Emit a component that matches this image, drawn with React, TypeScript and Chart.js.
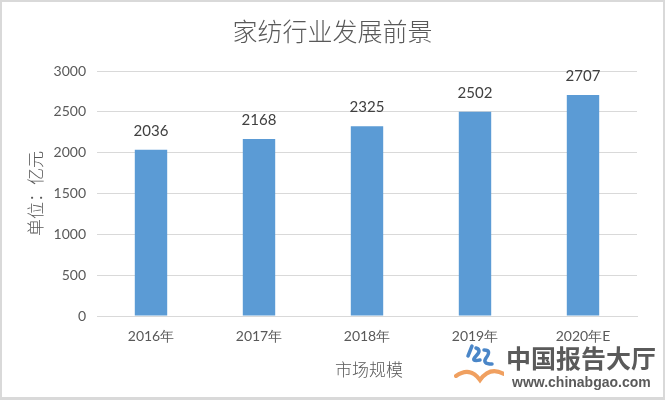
import React, { useEffect, useRef } from "react";
import { Chart, registerables } from "chart.js";

Chart.register(...registerables);

const categories = ["2016年", "2017年", "2018年", "2019年", "2020年E"];
const values = [2036, 2168, 2325, 2502, 2707];
const yTicks = [0, 500, 1000, 1500, 2000, 2500, 3000];
const titleText = "家纺行业发展前景";
const yTitle = "单位：亿元";
const xTitle = "市场规模";

const W = 661;
const H = 395;
const CJK = '"Noto Sans CJK SC", "Noto Sans", sans-serif';
const NUM = 'Lato, "Noto Sans", sans-serif';

export default function App() {
  const ref = useRef<HTMLCanvasElement | null>(null);

  useEffect(() => {
    document.body.style.margin = "0";
    const canvas = ref.current!;
    const decor = {
      id: "decor",
      afterDraw(chart: any) {
        const ctx = chart.ctx;
        const area = chart.chartArea;
        ctx.save();
        ctx.fillStyle = "#595959";
        ctx.textAlign = "center";
        ctx.textBaseline = "middle";
        // title
        ctx.font = `300 25px ${CJK}`;
        ctx.fillText(titleText, W / 2, 29);
        // x title
        ctx.font = `300 17px ${CJK}`;
        ctx.fillText(xTitle, (area.left + area.right) / 2 + 2, 368);
        // y title
        ctx.save();
        ctx.translate(34, (area.top + area.bottom) / 2);
        ctx.rotate(-Math.PI / 2);
        ctx.font = `300 17px ${CJK}`;
        ctx.fillText(yTitle, 0, 0);
        ctx.restore();
        // data labels
        ctx.fillStyle = "#404040";
        ctx.font = `15px ${NUM}`;
        const meta = chart.getDatasetMeta(0);
        meta.data.forEach((el: any, i: number) => {
          ctx.fillText(String(values[i]), el.x, el.y - 19);
        });
        ctx.restore();
      },
    };

    const chart = new Chart(canvas, {
      type: "bar",
      data: {
        labels: categories,
        datasets: [
          {
            data: values,
            backgroundColor: "#5b9bd5",
            borderWidth: 0,
            barPercentage: 0.6,
            categoryPercentage: 0.5,
          },
        ],
      },
      options: {
        responsive: false,
        animation: false,
        layout: { padding: { top: 69, right: 26, left: 0, bottom: 0 } },
        plugins: { legend: { display: false }, tooltip: { enabled: false }, title: { display: false } },
        scales: {
          x: {
            grid: { display: false, drawTicks: false },
            border: { color: "#d9d9d9", width: 1 },
            ticks: { color: "#595959", font: { size: 14, family: NUM }, padding: 12, maxRotation: 0 },
            afterFit(scale: any) {
              scale.height = 81;
            },
          },
          y: {
            min: 0,
            max: 3000,
            afterBuildTicks(scale: any) {
              scale.ticks = yTicks.map((v) => ({ value: v }));
            },
            grid: { color: "#d9d9d9", drawTicks: false },
            border: { display: false },
            ticks: {
              color: "#595959",
              font: { size: 14, family: NUM },
              padding: 11,
              callback: (v: any) => String(v),
            },
            afterFit(scale: any) {
              scale.width = 95;
            },
          },
        },
      },
      plugins: [decor],
    } as any);
    return () => chart.destroy();
  }, []);

  return (
    <div
      style={{
        position: "relative",
        width: 665,
        height: 400,
        boxSizing: "border-box",
        borderTop: "2px solid #d9d9d9",
        borderLeft: "2px solid #d9d9d9",
        borderRight: "2px solid #d9d9d9",
        borderBottom: "3px solid #d9d9d9",
        background: "#fff",
        overflow: "hidden",
      }}
    >
      <canvas ref={ref} width={W} height={H} style={{ display: "block" }} />
      <div style={{ position: "absolute", left: 452, top: 340, width: 210, height: 50 }}>
        <svg width="50" height="46" style={{ position: "absolute", left: 0, top: 0 }}>
          <path d="M18 4 L14 14 M22 6 q6 2 0 8 q-6 6 4 4 M30 8 q8 0 2 8 q-4 6 6 6" stroke="#4a86c8" strokeWidth="3.5" fill="none" strokeLinecap="round" />
          <path d="M2 34 q14 -10 24 4 q10 -14 24 -6" stroke="#f0a060" strokeWidth="4" fill="none" strokeLinecap="round" />
        </svg>
        <div
          style={{
            position: "absolute",
            left: 52,
            top: 0,
            fontFamily: CJK,
            fontWeight: 700,
            fontSize: 25,
            lineHeight: "30px",
            color: "#5a5a5a",
            whiteSpace: "nowrap",
          }}
        >
          中国报告大厅
        </div>
        <div
          style={{
            position: "absolute",
            left: 58,
            top: 32,
            fontFamily: '"Liberation Sans", Arial, sans-serif',
            fontWeight: 700,
            fontSize: 14,
            lineHeight: "16px",
            color: "#5a5a5a",
            whiteSpace: "nowrap",
          }}
        >
          www.chinabgao.com
        </div>
      </div>
    </div>
  );
}
